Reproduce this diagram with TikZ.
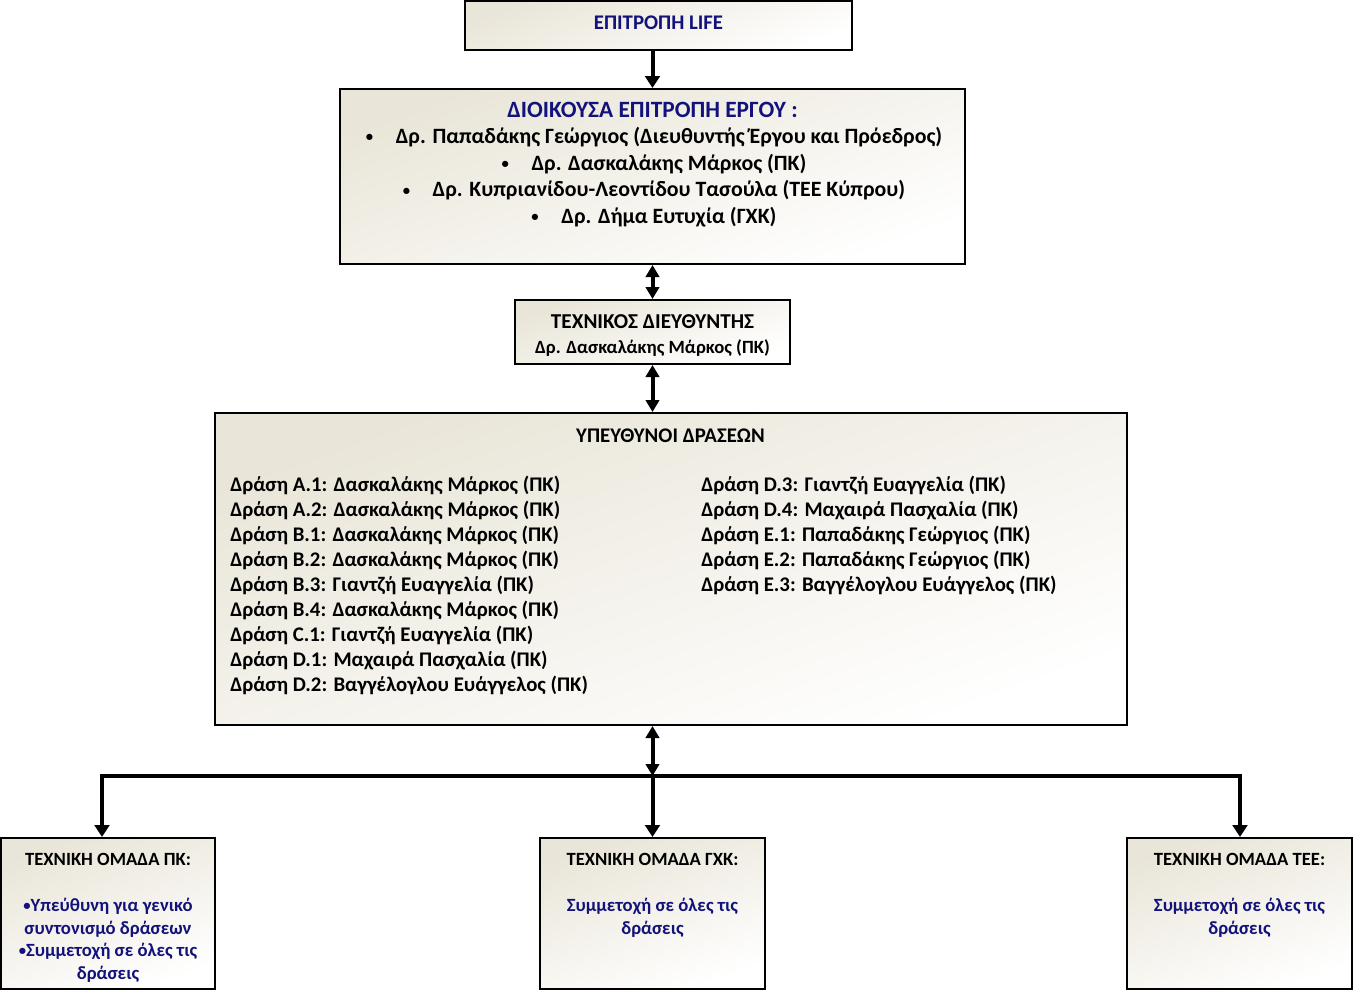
\documentclass[tikz,border=0pt]{standalone}
\usepackage{fontspec}
\setmainfont{Carlito}
\usetikzlibrary{arrows.meta}
\definecolor{navy}{HTML}{12127A}
\definecolor{beige}{HTML}{E9E5D8}
\newcommand\smbul{{\fontsize{11}{12}\selectfont\raisebox{0.2ex}{•}}}
\begin{document}
\begin{tikzpicture}[x=0.75pt,y=-0.75pt,
  bx/.style 2 args={draw=black, line width=1.5pt, top color=beige, bottom color=white, shading angle=20,
    minimum width={#1*0.75pt}, minimum height={#2*0.75pt}, inner sep=0pt},
  txt/.style={inner sep=0pt, anchor=base, font=\bfseries\fontsize{15.6}{18}\selectfont},
  ltxt/.style={txt, anchor=base west},
  big/.style={font=\bfseries\fontsize{17.5}{20}\selectfont},
  mid/.style={font=\bfseries\fontsize{16.4}{19}\selectfont},
  sml/.style={font=\bfseries\fontsize{14}{16}\selectfont},
  tiny/.style={font=\bfseries\fontsize{14}{16}\selectfont},
  arr/.style={line width=3pt, line join=miter, -{Triangle[length=9pt,width=11pt]}},
  darr/.style={line width=3pt, {Triangle[length=9pt,width=10pt]}-{Triangle[length=9pt,width=10pt]}},
  ]
\useasboundingbox (0,0) rectangle (1353,993);

% boxes
\node[bx={387}{49}] (b1) at (658.5,25.5) {};
\node[bx={625}{175}] (b2) at (652.5,176.5) {};
\node[bx={275}{64}] (b3) at (652.5,332) {};
\node[bx={912}{312}] (b4) at (671,569) {};
\node[bx={214}{151}] (b5) at (108,913.5) {};
\node[bx={225}{151}] (b6) at (652.5,913.5) {};
\node[bx={225}{151}] (b7) at (1239.5,913.5) {};

% box 1
\node[txt, text=navy] (t1) at (658.5,29) {ΕΠΙΤΡΟΠΗ LIFE};

% box 2
\node[txt, big, text=navy] (t2) at (652.5,117) {ΔΙΟΙΚΟΥΣΑ ΕΠΙΤΡΟΠΗ ΕΡΓΟΥ :};
\node[txt, mid] (t2a) at (654,143.3) {\smbul\hspace{17pt}Δρ. Παπαδάκης Γεώργιος (Διευθυντής Έργου και Πρόεδρος)};
\node[txt, mid] (t2b) at (654,170) {\smbul\hspace{17pt}Δρ. Δασκαλάκης Μάρκος (ΠΚ)};
\node[txt, mid] (t2c) at (654,196.7) {\smbul\hspace{17pt}Δρ. Κυπριανίδου-Λεοντίδου Τασούλα (ΤΕΕ Κύπρου)};
\node[txt, mid] (t2d) at (654,223.3) {\smbul\hspace{17pt}Δρ. Δήμα Ευτυχία (ΓΧΚ)};

% box 3
\node[txt, font=\bfseries\fontsize{15.9}{18}\selectfont] (t3a) at (652.5,328.5) {ΤΕΧΝΙΚΟΣ ΔΙΕΥΘΥΝΤΗΣ};
\node[txt, sml] (t3b) at (652.5,353) {Δρ. Δασκαλάκης Μάρκος (ΠΚ)};

% box 4
\node[txt] (t4) at (670.5,442) {ΥΠΕΥΘΥΝΟΙ ΔΡΑΣΕΩΝ};
\foreach \t [count=\i] in {%
  {Δράση A.1: Δασκαλάκης Μάρκος (ΠΚ)},
  {Δράση A.2: Δασκαλάκης Μάρκος (ΠΚ)},
  {Δράση B.1: Δασκαλάκης Μάρκος (ΠΚ)},
  {Δράση B.2: Δασκαλάκης Μάρκος (ΠΚ)},
  {Δράση B.3: Γιαντζή Ευαγγελία (ΠΚ)},
  {Δράση B.4: Δασκαλάκης Μάρκος (ΠΚ)},
  {Δράση C.1: Γιαντζή Ευαγγελία (ΠΚ)},
  {Δράση D.1: Μαχαιρά Πασχαλία (ΠΚ)},
  {Δράση D.2: Βαγγέλογλου Ευάγγελος (ΠΚ)}}
  \node[ltxt] (L\i) at (230,{491.7+25*(\i-1)}) {\t};
\foreach \t [count=\i] in {%
  {Δράση D.3: Γιαντζή Ευαγγελία (ΠΚ)},
  {Δράση D.4: Μαχαιρά Πασχαλία (ΠΚ)},
  {Δράση E.1: Παπαδάκης Γεώργιος (ΠΚ)},
  {Δράση E.2: Παπαδάκης Γεώργιος (ΠΚ)},
  {Δράση E.3: Βαγγέλογλου Ευάγγελος (ΠΚ)}}
  \node[ltxt] (R\i) at (701,{491.7+25*(\i-1)}) {\t};

% bottom boxes
\node[txt, tiny] (t5) at (108,865) {ΤΕΧΝΙΚΗ ΟΜΑΔΑ ΠΚ:};
\node[txt, tiny, text=navy] (t5a) at (108,911.5) {\smbul Υπεύθυνη για γενικό};
\node[txt, tiny, text=navy] (t5b) at (108,934) {συντονισμό δράσεων};
\node[txt, tiny, text=navy] (t5c) at (108,956.5) {\smbul Συμμετοχή σε όλες τις};
\node[txt, tiny, text=navy] (t5d) at (108,979) {δράσεις};

\node[txt, tiny] (t6) at (652.5,865) {ΤΕΧΝΙΚΗ ΟΜΑΔΑ ΓΧΚ:};
\node[txt, tiny, text=navy] (t6a) at (652.5,911.5) {Συμμετοχή σε όλες τις};
\node[txt, tiny, text=navy] (t6b) at (652.5,934) {δράσεις};

\node[txt, tiny] (t7) at (1239.5,865) {ΤΕΧΝΙΚΗ ΟΜΑΔΑ ΤΕΕ:};
\node[txt, tiny, text=navy] (t7a) at (1239.5,911.5) {Συμμετοχή σε όλες τις};
\node[txt, tiny, text=navy] (t7b) at (1239.5,934) {δράσεις};

% connectors
\draw[arr] (b1.south -| b2.north) -- (b2.north);
\draw[darr] (b2.south) -- (b3.north);
\draw[darr] (b3.south) -- (b3.south |- b4.north);
\coordinate (jC) at (652.5,776);
\coordinate (jL) at (102,776);
\coordinate (jR) at (1240,776);
\draw[arr] (jC) -- (jL) -- (jL |- b5.north);
\draw[arr] (jC) -- (jR) -- (jR |- b7.north);
\draw[arr] (jC) -- (b6.north);
\draw[darr] (jC |- b4.south) -- (jC);
\end{tikzpicture}
\end{document}
